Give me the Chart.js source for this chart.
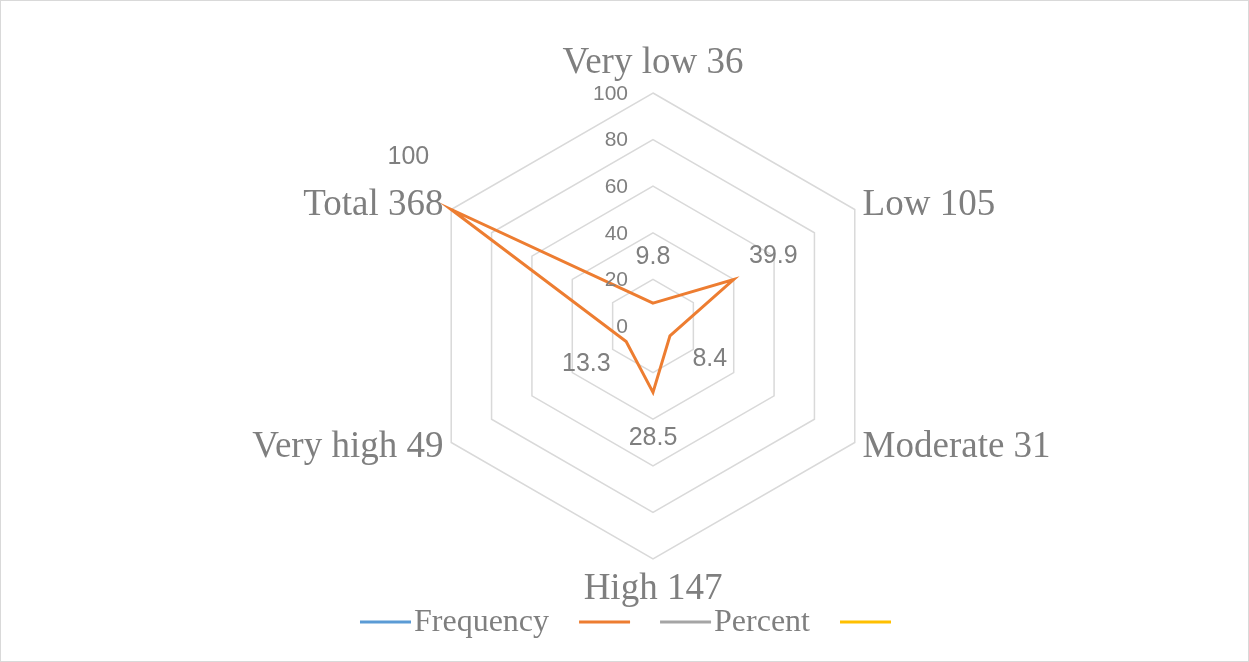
<!DOCTYPE html>
<html>
<head>
<meta charset="utf-8">
<script src="https://cdn.jsdelivr.net/npm/chart.js@4/dist/chart.umd.min.js"></script>
<style>
  html, body { margin: 0; padding: 0; background: #fff; }
  #wrap { width: 1249px; height: 662px; box-sizing: border-box; border: 1px solid #d9d9d9; }
  canvas { display: block; }
</style>
</head>
<body>
<div id="wrap"><canvas id="chart" width="1247" height="660"></canvas></div>
<script>
const categories = ["Very low 36", "Low 105", "Moderate 31", "High 147", "Very high 49", "Total 368"]
const percentValues = [9.8, 39.9, 8.4, 28.5, 13.3, 100]
const tickValues = [0, 20, 40, 60, 80, 100]
const seriesNames = ["Frequency", "", "Percent", ""]
const seriesColors = ["#5b9bd5", "#ed7d31", "#a5a5a5", "#ffc000"]

const textGray = "#7f7f7f"

// labels, ticks and legend are painted by hand so they sit where Excel puts them
const radarText = {
    id: "radarText",
    afterDatasetsDraw(chart) {
        const ctx = chart.ctx
        const scale = chart.scales.r
        const r = scale.drawingArea
        const cx = scale.xCenter
        const cy = scale.yCenter

        ctx.save()
        ctx.fillStyle = textGray

        // tick values, right-aligned beside the top spoke
        ctx.font = "21px 'Liberation Sans'"
        ctx.textAlign = "right"
        ctx.textBaseline = "middle"
        tickValues.forEach(v => {
            const y = cy - scale.getDistanceFromCenterForValue(v)
            ctx.fillText(String(v), cx - 25, y + 1)
        })

        // category names round the outside
        ctx.font = "37px 'Liberation Serif'"
        categories.forEach((label, i) => {
            const edge = scale.getPointPosition(i, r)
            if (Math.abs(edge.x - cx) < 1) {
                const p = scale.getPointPosition(i, r + 30)
                ctx.textAlign = "center"
                ctx.fillText(label, p.x, p.y)
            } else {
                const p = scale.getPointPosition(i, r + 9)
                ctx.textAlign = p.x > cx ? "left" : "right"
                ctx.fillText(label, p.x, p.y)
            }
        })

        // value labels pushed outward from each point
        const nudge = { 5: [-3, -29] }
        const meta = chart.getDatasetMeta(1)
        ctx.font = "25px 'Liberation Sans'"
        ctx.textAlign = "center"
        meta.data.forEach((pt, i) => {
            const dx = pt.x - cx
            const dy = pt.y - cy
            const len = Math.hypot(dx, dy) || 1
            const extra = nudge[i] || [0, 0]
            const x = pt.x + dx / len * 46 + extra[0]
            const y = pt.y + dy / len * 46 + extra[1]
            ctx.fillText(String(percentValues[i]), x, y)
        })

        // legend along the bottom
        ctx.font = "32px 'Liberation Serif'"
        ctx.textAlign = "left"
        const lineLen = 51
        const items = chart.data.datasets.map(ds => ({
            text: ds.label,
            color: ds.borderColor,
            w: lineLen + (ds.label ? 3 + ctx.measureText(ds.label).width : 0)
        }))
        const gap = 30
        const total = items.reduce((s, it) => s + it.w, 0) + gap * (items.length - 1)
        let x = chart.width / 2 + 1 - total / 2
        const ly = 621
        items.forEach(it => {
            ctx.strokeStyle = it.color
            ctx.lineWidth = 3
            ctx.beginPath()
            ctx.moveTo(x, ly)
            ctx.lineTo(x + lineLen, ly)
            ctx.stroke()
            if (it.text) ctx.fillText(it.text, x + lineLen + 3, ly + 1)
            x += it.w + gap
        })

        ctx.restore()
    }
}

new Chart(document.getElementById("chart"), {
    type: "radar",
    data: {
        labels: categories,
        datasets: seriesNames.map((name, i) => ({
            label: name,
            data: i === 1 ? percentValues : [],
            borderColor: seriesColors[i],
            backgroundColor: seriesColors[i],
            borderWidth: 3,
            pointRadius: 0,
            fill: false,
            tension: 0
        }))
    },
    options: {
        responsive: false,
        animation: false,
        layout: {
            padding: { top: 92, bottom: 102, left: 57, right: 0 }
        },
        scales: {
            r: {
                min: 0,
                max: 100,
                ticks: { stepSize: 20, display: false },
                grid: { color: "#d9d9d9", lineWidth: 1.5 },
                angleLines: { display: false },
                pointLabels: { display: false }
            }
        },
        plugins: {
            legend: { display: false },
            tooltip: { enabled: false }
        }
    },
    plugins: [radarText]
})
</script>
</body>
</html>
